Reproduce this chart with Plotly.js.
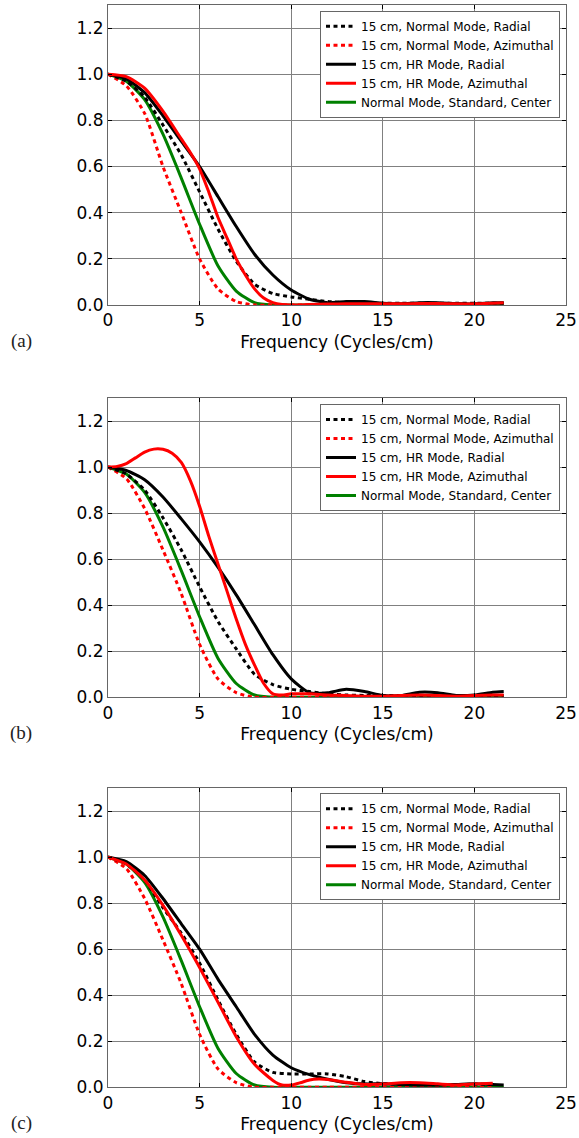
<!DOCTYPE html>
<html>
<head>
<meta charset="utf-8">
<script src="https://cdn.plot.ly/plotly-3.0.1.min.js"></script>
<style>html,body{margin:0;padding:0;background:#fff;}#chart{width:579px;height:1138px;}</style>
</head>
<body>
<div id="chart"></div>
<script>
// ---------- data ----------
const seriesNames = [
  "15 cm, Normal Mode, Radial",
  "15 cm, Normal Mode, Azimuthal",
  "15 cm, HR Mode, Radial",
  "15 cm, HR Mode, Azimuthal",
  "Normal Mode, Standard, Center"
];
const panelLabels = ["(a)", "(b)", "(c)"];
const xTickVals = [0, 5, 10, 15, 20, 25];
const yTickVals = [0, 0.2, 0.4, 0.6, 0.8, 1.0, 1.2];

const freqInt = [0,1,2,3,4,5,6,7,8,9,10,11,12,13,14,15,16,17,18,19,20,21,21.6];
const freqInt21 = [0,1,2,3,4,5,6,7,8,9,10,11,12,13,14,15,16,17,18,19,20,21];

// panel (a)
const a_nmRadial    = [1.0,0.97,0.90,0.78,0.65,0.49,0.33,0.19,0.09,0.05,0.035,0.025,0.015,0.01,0.008,0.008,0.008,0.008,0.008,0.008,0.008,0.008,0.008];
const a_nmAzimuthal = [1.0,0.95,0.83,0.60,0.40,0.20,0.07,0.015,0.0,0.0,0.0,0.0,0.0,0.0,0.0,0.0,0.0,0.0,0.0,0.0,0.0,0.0];
const a_hrRadial    = [1.0,0.98,0.92,0.82,0.71,0.60,0.47,0.34,0.22,0.13,0.065,0.025,0.01,0.015,0.015,0.008,0.005,0.01,0.01,0.006,0.005,0.01,0.01];
const a_hrAzFreq    = [0,1,2,3,4,4.5,5,5.5,6,6.5,7,7.5,8,8.5,9,9.5,10,11,12,13,14,15,16,17,18,19,20,21,21.6];
const a_hrAzimuthal = [1.0,0.99,0.94,0.84,0.72,0.66,0.59,0.49,0.38,0.29,0.20,0.13,0.07,0.03,0.01,0.002,0.0,0.002,0.004,0.005,0.005,0.005,0.005,0.006,0.006,0.005,0.005,0.008,0.01];
const a_stdCenter   = [1.0,0.97,0.89,0.74,0.55,0.35,0.17,0.06,0.01,0.0,0.0,0.0,0.0,0.0,0.0,0.0,0.0,0.0,0.0,0.0,0.0,0.0,0.0];

// panel (b)
const b_nmRadial    = [1.0,0.97,0.90,0.78,0.64,0.48,0.33,0.21,0.10,0.055,0.035,0.025,0.015,0.01,0.008,0.008,0.008,0.008,0.008,0.008,0.008,0.008,0.008];
const b_nmAzimuthal = [1.0,0.95,0.82,0.64,0.45,0.23,0.08,0.02,0.0,0.0,0.0,0.0,0.0,0.0,0.0,0.0,0.0,0.0,0.0,0.0,0.0,0.0];
const b_hrRadial    = [1.0,0.985,0.945,0.87,0.775,0.675,0.565,0.445,0.315,0.185,0.08,0.02,0.02,0.035,0.025,0.008,0.008,0.022,0.02,0.008,0.01,0.022,0.025];
const b_hrAzFreq    = [0,0.5,1,1.5,2,2.5,3,3.5,4,4.5,5,5.5,6,6.5,7,7.5,8,8.5,9,9.5,10,11,12,13,14,15,16,17,18,19,20,21,21.6];
const b_hrAzimuthal = [1.0,1.003,1.015,1.04,1.065,1.078,1.077,1.06,1.02,0.94,0.83,0.70,0.58,0.46,0.34,0.23,0.14,0.06,0.015,0.01,0.015,0.015,0.01,0.008,0.005,0.005,0.008,0.01,0.008,0.005,0.008,0.01,0.01];
const b_stdCenter   = [1.0,0.97,0.89,0.74,0.55,0.35,0.17,0.06,0.01,0.0,0.0,0.0,0.0,0.0,0.0,0.0,0.0,0.0,0.0,0.0,0.0,0.0,0.0];

// panel (c)
const c_nmRadial    = [1.0,0.97,0.90,0.78,0.67,0.54,0.38,0.23,0.11,0.065,0.058,0.058,0.058,0.046,0.025,0.016,0.014,0.013,0.012,0.012,0.013,0.013];
const c_nmAzimuthal = [1.0,0.95,0.82,0.64,0.45,0.23,0.08,0.02,0.0,0.0,0.0,0.0,0.0,0.0,0.0,0.0,0.0,0.0,0.0,0.0,0.0,0.0];
const c_hrRadial    = [1.0,0.98,0.92,0.82,0.71,0.60,0.47,0.35,0.23,0.14,0.085,0.055,0.035,0.02,0.015,0.015,0.012,0.01,0.01,0.012,0.015,0.012,0.01];
const c_hrAzFreq    = [0,1,2,3,4,5,6,7,8,9,9.5,10,10.5,11,11.5,12,13,14,15,16,17,18,19,20,21];
const c_hrAzimuthal = [1.0,0.97,0.90,0.79,0.66,0.52,0.37,0.22,0.10,0.03,0.01,0.01,0.02,0.032,0.036,0.034,0.022,0.012,0.014,0.02,0.02,0.015,0.01,0.014,0.018];
const c_stdCenter   = [1.0,0.97,0.89,0.74,0.55,0.35,0.17,0.06,0.01,0.0,0.0,0.0,0.0,0.0,0.0,0.0,0.0,0.0,0.0,0.0,0.0,0.0,0.0];

const panels = [
  {x: [freqInt, freqInt21, freqInt, a_hrAzFreq, freqInt],
   y: [a_nmRadial, a_nmAzimuthal, a_hrRadial, a_hrAzimuthal, a_stdCenter]},
  {x: [freqInt, freqInt21, freqInt, b_hrAzFreq, freqInt],
   y: [b_nmRadial, b_nmAzimuthal, b_hrRadial, b_hrAzimuthal, b_stdCenter]},
  {x: [freqInt21, freqInt21, freqInt, c_hrAzFreq, freqInt],
   y: [c_nmRadial, c_nmAzimuthal, c_hrRadial, c_hrAzimuthal, c_stdCenter]}
];

// ---------- styles ----------
const colors = ["#000000", "#ff0000", "#000000", "#ff0000", "#008000"];
const dashes = ["4px,3.5px", "4px,3.5px", "solid", "solid", "solid"];
const drawOrder = [4, 1, 0, 2, 3];

const W = 579, H = 1138;
const plotLeft = 108, plotRight = 566;
const panelPix = [[5, 305], [398, 697.3], [788, 1087.3]];
const legendTop = [10.7, 404, 793.3];

const traces = [];
const layout = {
  width: W, height: H,
  margin: {l: 0, r: 0, t: 0, b: 0},
  paper_bgcolor: "#ffffff",
  plot_bgcolor: "#ffffff",
  font: {family: "DejaVu Sans", size: 17, color: "#000"},
  annotations: [],
  showlegend: true
};

panels.forEach((p, i) => {
  const xa = i === 0 ? "x" : "x" + (i + 1);
  const ya = i === 0 ? "y" : "y" + (i + 1);
  const lg = i === 0 ? "legend" : "legend" + (i + 1);
  drawOrder.forEach(k => {
    traces.push({
      type: "scatter", mode: "lines",
      x: p.x[k], y: p.y[k],
      xaxis: xa, yaxis: ya,
      name: seriesNames[k],
      legend: lg,
      legendrank: k + 1,
      line: {color: colors[k], width: 3, dash: dashes[k], shape: "spline", smoothing: 0.6},
      hoverinfo: "skip"
    });
  });

  const [top, bot] = panelPix[i];
  const axX = i === 0 ? "xaxis" : "xaxis" + (i + 1);
  const axY = i === 0 ? "yaxis" : "yaxis" + (i + 1);
  layout[axX] = {
    domain: [plotLeft / W, plotRight / W],
    anchor: ya,
    range: [0, 25],
    tickvals: xTickVals,
    ticktext: xTickVals.map(String),
    ticks: "inside", ticklen: 4, tickcolor: "#000",
    showgrid: true, gridcolor: "#808080", gridwidth: 1,
    showline: true, linecolor: "#666", linewidth: 1, mirror: "ticks",
    zeroline: false,
    tickfont: {family: "DejaVu Sans", size: 17, color: "#000"},
    title: {text: "Frequency (Cycles/cm)", font: {family: "DejaVu Sans", size: 17, color: "#000"}, standoff: 6},
    automargin: false
  };
  layout[axY] = {
    domain: [1 - bot / H, 1 - top / H],
    anchor: xa,
    range: [0, 1.3],
    tickvals: yTickVals,
    ticktext: yTickVals.map(v => v.toFixed(1)),
    ticks: "inside", ticklen: 4, tickcolor: "#000",
    showgrid: true, gridcolor: "#808080", gridwidth: 1,
    showline: true, linecolor: "#666", linewidth: 1, mirror: "ticks",
    zeroline: false,
    tickfont: {family: "DejaVu Sans", size: 17, color: "#000"},
    automargin: false
  };
  layout[lg] = {
    x: 560 / W, y: 1 - legendTop[i] / H,
    xanchor: "right", yanchor: "top",
    xref: "paper", yref: "paper",
    bgcolor: "#ffffff",
    bordercolor: "#666", borderwidth: 1,
    font: {family: "DejaVu Sans", size: 12, color: "#000"},
    traceorder: "normal",
    tracegroupgap: 0
  };
  layout.annotations.push({
    text: panelLabels[i],
    xref: "paper", yref: "paper",
    x: 21 / W, y: 1 - (bot + 36) / H,
    xanchor: "center", yanchor: "middle",
    showarrow: false,
    font: {family: "Liberation Serif", size: 19, color: "#222"}
  });
});

Plotly.newPlot("chart", traces, layout, {staticPlot: true, displayModeBar: false});
</script>
</body>
</html>
